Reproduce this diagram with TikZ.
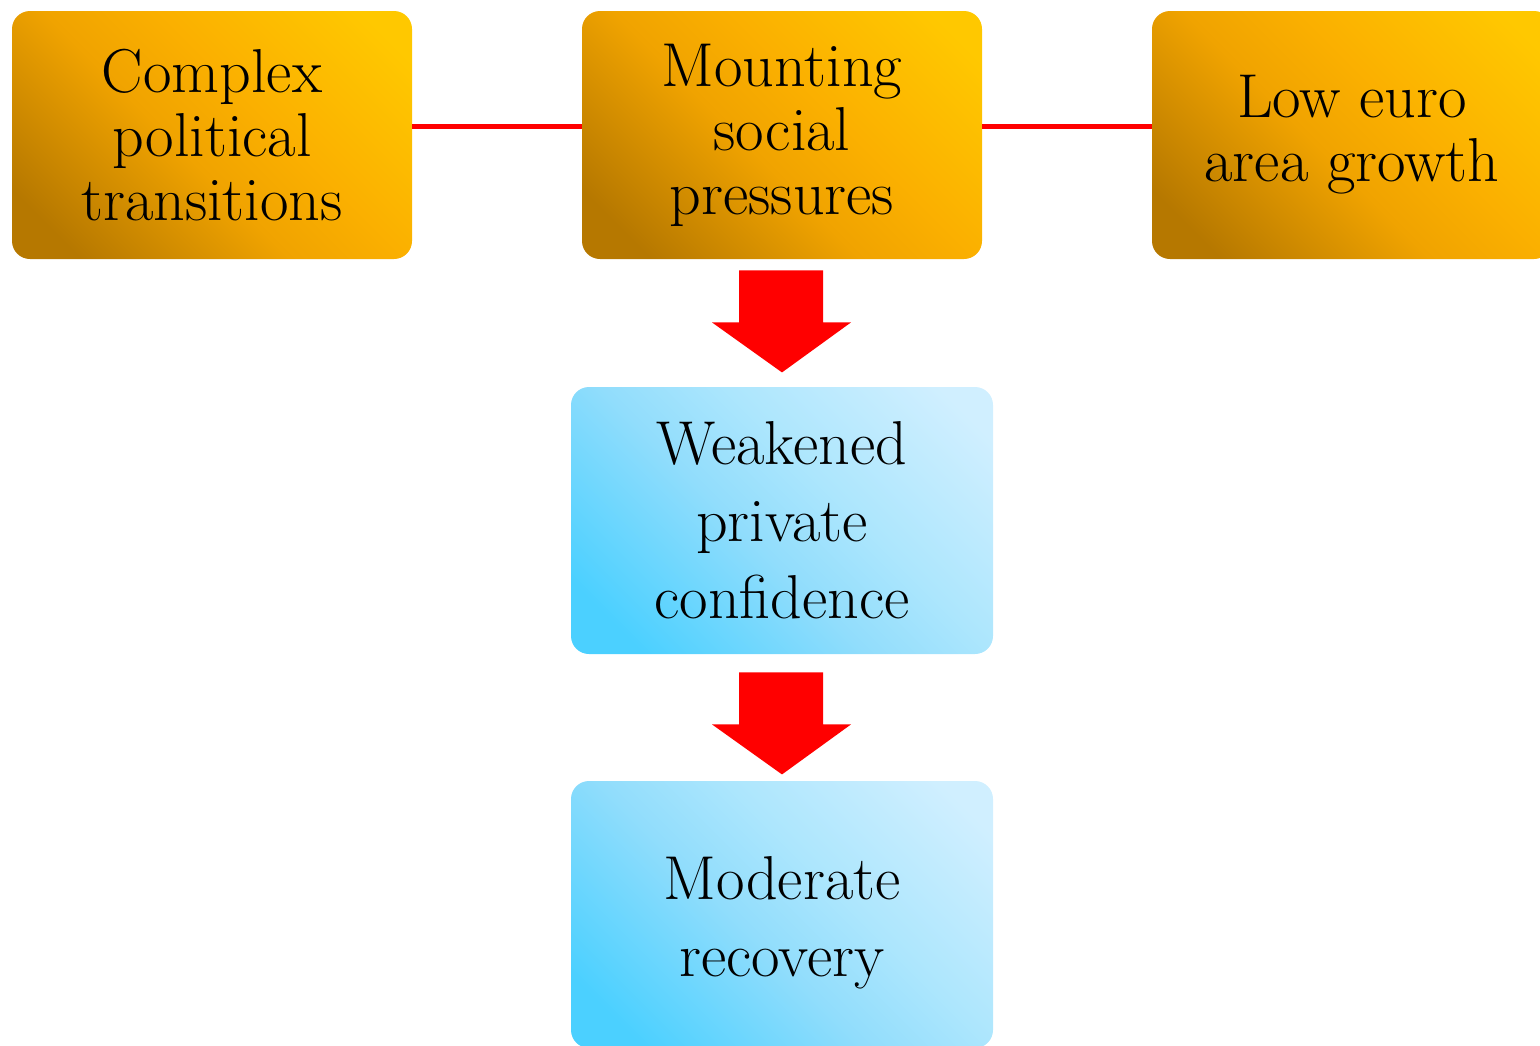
\documentclass[tikz,border=0pt]{standalone}
\usepackage{tikz}
\usetikzlibrary{calc,positioning}

\definecolor{orangedark}{RGB}{182,120,0}
\definecolor{orangemid}{RGB}{240,163,0}
\definecolor{orangecore}{RGB}{251,176,0}
\definecolor{orangelight}{RGB}{255,200,0}
\definecolor{bluedark}{RGB}{75,208,255}
\definecolor{bluemid}{RGB}{145,221,252}
\definecolor{bluecore}{RGB}{172,230,253}
\definecolor{bluelight}{RGB}{208,239,255}
\definecolor{linkred}{RGB}{255,0,0}

\pgfdeclareverticalshading{orangeshade}{100bp}{color(0bp)=(orangedark); color(22bp)=(orangedark);
    color(45bp)=(orangemid); color(58bp)=(orangecore); color(80bp)=(orangelight); color(100bp)=(orangelight)}
\pgfdeclareverticalshading{blueshade}{100bp}{color(0bp)=(bluedark); color(22bp)=(bluedark);
    color(45bp)=(bluemid); color(58bp)=(bluecore); color(80bp)=(bluelight); color(100bp)=(bluelight)}

\tikzset{
    causebox/.style={rounded corners=9pt, inner sep=0pt, align=center,
                     minimum width=200pt, minimum height=124pt,
                     shading=orangeshade, shading angle=-45,
                     font=\fontsize{31}{32}\selectfont},
    effectbox/.style={rounded corners=9pt, inner sep=0pt, align=center,
                      minimum width=211pt, minimum height=133.5pt,
                      shading=blueshade, shading angle=-45,
                      font=\fontsize{31}{38.5}\selectfont},
    redlink/.style={draw=linkred, line width=2.5pt},
    redblock/.style={fill=linkred}
}

\begin{document}
\begin{tikzpicture}[x=0.5pt,y=-0.5pt]
    \useasboundingbox (0,0) rectangle (1540,1045);

    % top row
    \node[causebox] (complex) at (212,135) {Complex\\political\\transitions};
    \node[causebox] (mount)   at (782,135) {Mounting\\social\\pressures};
    \node[causebox] (loweuro) at (1352,135) {Low euro\\area growth};

    % lower column
    \node[effectbox] (weak)   at (782,520.5) {Weakened\\private\\confidence};
    \node[effectbox] (modrec) at (782,914.5) {\rule{0pt}{30pt}Moderate\\recovery};

    \draw[redlink] ([yshift=4.5pt]complex.east) -- ([yshift=4.5pt]mount.west);
    \draw[redlink] ([yshift=4.5pt]mount.east) -- ([yshift=4.5pt]loweuro.west);

    % block arrows
    \coordinate (a1) at ($(mount.south)+(0,11)$);
    \coordinate (a2) at ($(weak.south)+(0,18)$);
    \foreach \p in {a1,a2}{
        \fill[redblock] ($(\p)+(-43,0)$) -- ($(\p)+(41,0)$) -- ($(\p)+(41,52)$)
            -- ($(\p)+(69,52)$) -- ($(\p)+(0,102)$) -- ($(\p)+(-70,52)$)
            -- ($(\p)+(-43,52)$) -- cycle;
    }
\end{tikzpicture}
\end{document}
